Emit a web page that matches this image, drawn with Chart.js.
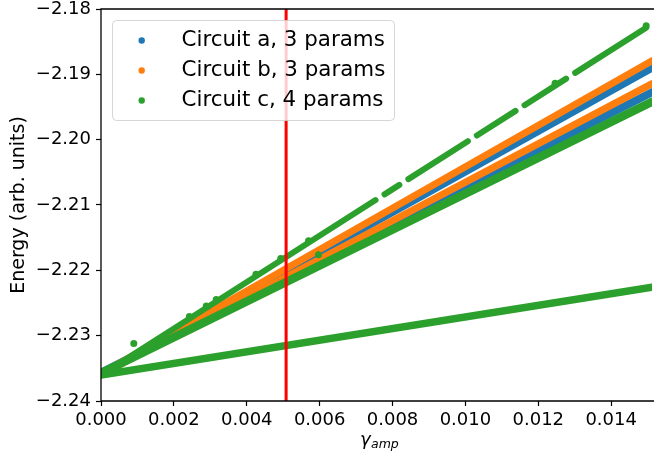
<!DOCTYPE html>
<html><head><meta charset="utf-8">
<script src="https://cdn.jsdelivr.net/npm/chart.js@4.4.0/dist/chart.umd.min.js"></script>
<style>html,body{margin:0;padding:0;background:#fff;overflow:hidden}</style>
</head><body>
<canvas id="c" width="656" height="455"></canvas>
<script>
// ---- data ----
const seriesLabels = ['Circuit a, 3 params', 'Circuit b, 3 params', 'Circuit c, 4 params'];
const xTickValues = [0, 0.002, 0.004, 0.006, 0.008, 0.010, 0.012, 0.014];
const xTickLabels = ['0.000', '0.002', '0.004', '0.006', '0.008', '0.010', '0.012', '0.014'];
const yTickValues = [-2.24, -2.23, -2.22, -2.21, -2.20, -2.19, -2.18];
const yTickLabels = ['\u22122.24', '\u22122.23', '\u22122.22', '\u22122.21', '\u22122.20', '\u22122.19', '\u22122.18'];
const xRange = [0, 0.01512];
const yRange = [-2.24, -2.18];
const redLineX = 0.00508;

// bands: energy at gamma = bandX[0] and bandX[1]
const bandX = [0, 0.01512];
const circuitA = [[-2.23598, -2.18906], [-2.23567, -2.19274]];
const circuitB = [[-2.23582, -2.18791], [-2.23598, -2.19143]];
const circuitC = [[-2.23575, -2.19419], [-2.23601, -2.22258]];
// upper Circuit c branch (broken into runs)
const circuitCTopX = [[0, 0.007534], [0.00778, 0.008188], [0.008434, 0.010068], [0.010314, 0.011376], [0.011622, 0.012765], [0.013011, 0.01496]];
const circuitCTopY = [[-2.23601, -2.20924], [-2.20837, -2.20692], [-2.20604, -2.20024], [-2.19936, -2.19559], [-2.19472, -2.19066], [-2.18978, -2.18286]];
// isolated Circuit c points
const circuitCPtsX = [0.0009, 0.005967, 0.01246, 0.01496, 0.002425, 0.002888, 0.003161, 0.004251, 0.004932, 0.005695];
const circuitCPtsY = [-2.2312, -2.2176, -2.19136, -2.18256, -2.22708, -2.22545, -2.22448, -2.22061, -2.21819, -2.21547];

// ---- styles ----
const colors = ['#1f77b4', '#ff7f0e', '#2ca02c'];
const widthsA = [7, 8];
const widthsB = [7, 7];
const widthsC = [8.5, 7.5];
const topWidth = 6;
const FONT = 'DejaVu Sans';

const datasets = [];
function band(y, w, color, order) {
  datasets.push({
    data: [{x: bandX[0], y: y[0]}, {x: bandX[1], y: y[1]}],
    showLine: true, borderColor: color, backgroundColor: color, borderWidth: w,
    pointRadius: 0, borderCapStyle: 'round', order: order, clip: 0
  });
}
circuitA.forEach((y, i) => band(y, widthsA[i], colors[0], 3));
circuitB.forEach((y, i) => band(y, widthsB[i], colors[1], 2));
circuitC.forEach((y, i) => band(y, widthsC[i], colors[2], 1));
circuitCTopX.forEach((xs, i) => {
  datasets.push({
    data: [{x: xs[0], y: circuitCTopY[i][0]}, {x: xs[1], y: circuitCTopY[i][1]}],
    showLine: true, borderColor: colors[2], backgroundColor: colors[2], borderWidth: topWidth,
    pointRadius: 0, borderCapStyle: 'round', order: 1, clip: 0
  });
});
datasets.push({
  data: circuitCPtsX.map((x, i) => ({x: x, y: circuitCPtsY[i]})),
  showLine: false, pointRadius: 3.5, pointBorderWidth: 0,
  backgroundColor: colors[2], borderColor: colors[2], order: 1, clip: 0
});
datasets.push({
  data: [{x: redLineX, y: yRange[0]}, {x: redLineX, y: yRange[1]}],
  showLine: true, borderColor: '#ff0000', borderWidth: 3, pointRadius: 0, order: 0, clip: 0
});

const overlay = {
  id: 'overlay',
  afterDatasetsDraw(chart) {
    const {ctx, chartArea: a} = chart;
    ctx.save();
    // spines
    ctx.strokeStyle = '#000'; ctx.lineWidth = 1.3;
    ctx.beginPath();
    ctx.moveTo(a.left, a.bottom); ctx.lineTo(a.left, a.top); ctx.lineTo(a.right + 2, a.top);
    ctx.moveTo(a.left, a.bottom); ctx.lineTo(a.right + 2, a.bottom);
    ctx.stroke();
    // legend
    const bx = 112.5, by = 20.5, bw = 282, bh = 100, r = 4;
    ctx.beginPath();
    ctx.moveTo(bx + r, by); ctx.lineTo(bx + bw - r, by); ctx.arcTo(bx + bw, by, bx + bw, by + r, r);
    ctx.lineTo(bx + bw, by + bh - r); ctx.arcTo(bx + bw, by + bh, bx + bw - r, by + bh, r);
    ctx.lineTo(bx + r, by + bh); ctx.arcTo(bx, by + bh, bx, by + bh - r, r);
    ctx.lineTo(bx, by + r); ctx.arcTo(bx, by, bx + r, by, r); ctx.closePath();
    ctx.fillStyle = 'rgba(255,255,255,0.8)'; ctx.fill();
    ctx.strokeStyle = 'rgba(204,204,204,0.8)'; ctx.lineWidth = 1; ctx.stroke();
    ctx.font = '21.4px "' + FONT + '"';
    ctx.textBaseline = 'alphabetic'; ctx.textAlign = 'left';
    seriesLabels.forEach((lab, i) => {
      const yb = 46 + i * 30;
      ctx.fillStyle = colors[i];
      ctx.beginPath(); ctx.arc(141.7, yb - 5.5, 3.2, 0, Math.PI * 2); ctx.fill();
      ctx.fillStyle = '#000';
      ctx.fillText(lab, 181.5, yb);
    });
    // x-axis title: gamma_amp
    ctx.fillStyle = '#000';
    ctx.font = 'italic 18px "' + FONT + '"';
    ctx.fillText('\u03b3', 360, 445);
    ctx.font = 'italic 12.5px "' + FONT + '"';
    ctx.fillText('amp', 371, 448);
    ctx.restore();
  }
};

new Chart(document.getElementById('c'), {
  type: 'scatter',
  data: {datasets: datasets},
  options: {
    responsive: false, devicePixelRatio: 1, animation: false,
    layout: {padding: {top: 9, right: 0, left: 0, bottom: 0}},
    plugins: {legend: {display: false}, tooltip: {enabled: false}},
    scales: {
      x: {
        type: 'linear', min: xRange[0], max: xRange[1],
        afterBuildTicks: s => { s.ticks = xTickValues.map(v => ({value: v})); },
        afterFit: s => { s.height = 54; s.paddingLeft = 0; s.paddingRight = 0; },
        grid: {display: true, drawOnChartArea: false, drawTicks: true, tickLength: 5, tickWidth: 1.2, tickColor: '#000'},
        border: {display: false},
        ticks: {color: '#000', font: {family: FONT, size: 18}, padding: 4, maxRotation: 0, autoSkip: false,
                callback: (v, i) => xTickLabels[i]}
      },
      y: {
        type: 'linear', min: yRange[0], max: yRange[1],
        afterBuildTicks: s => { s.ticks = yTickValues.map(v => ({value: v})); },
        afterFit: s => { s.width = 101; s.paddingTop = 0; s.paddingBottom = 0; },
        grid: {display: true, drawOnChartArea: false, drawTicks: true, tickLength: 5, tickWidth: 1.2, tickColor: '#000'},
        border: {display: false},
        ticks: {color: '#000', font: {family: FONT, size: 18}, padding: 5, autoSkip: false,
                callback: (v, i) => yTickLabels[i]},
        title: {display: true, text: 'Energy (arb. units)', color: '#000', font: {family: FONT, size: 19}, padding: {top: 8, bottom: 0}}
      }
    }
  },
  plugins: [overlay]
});
</script>
</body></html>
